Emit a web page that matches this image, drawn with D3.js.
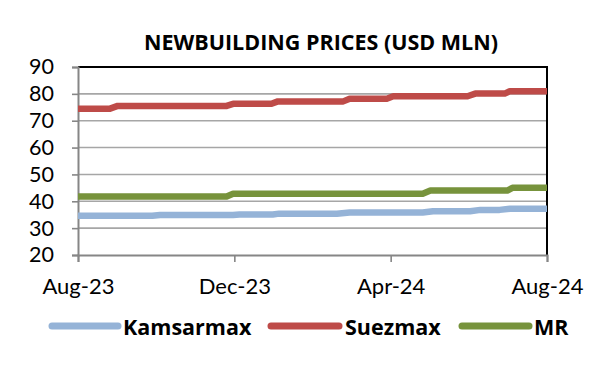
<!DOCTYPE html>
<html>
<head>
<meta charset="utf-8">
<script src="https://cdn.jsdelivr.net/npm/d3@7"></script>
<style>
  html, body { margin: 0; padding: 0; background: #fff; }
  svg { display: block; }
</style>
</head>
<body>
<svg id="chart" width="600" height="369"></svg>
<script>
// ---- Data ----
const title = "NEWBUILDING PRICES (USD MLN)";
const seriesNames = ["Kamsarmax", "Suezmax", "MR"];
const seriesColors = ["#95B3D7", "#BE4B48", "#77933C"];
const xTickDates = ["2023-08-01", "2023-12-01", "2024-04-01", "2024-08-01"];
const yTicks = [20, 30, 40, 50, 60, 70, 80, 90];

const kamsarmax = [
  ["2023-08-01", 34.6], ["2023-09-28", 34.6], ["2023-10-04", 34.9], ["2023-11-30", 34.9],
  ["2023-12-05", 35.1], ["2023-12-31", 35.1], ["2024-01-05", 35.4], ["2024-02-19", 35.4],
  ["2024-02-29", 35.8], ["2024-04-26", 35.8], ["2024-05-04", 36.3], ["2024-06-02", 36.3],
  ["2024-06-10", 36.8], ["2024-06-25", 36.8], ["2024-07-03", 37.2], ["2024-08-01", 37.2]
];
const suezmax = [
  ["2023-08-01", 74.5], ["2023-08-26", 74.5], ["2023-09-01", 75.5], ["2023-11-25", 75.5],
  ["2023-11-30", 76.3], ["2023-12-30", 76.3], ["2024-01-04", 77.2], ["2024-02-24", 77.2],
  ["2024-02-29", 78.2], ["2024-03-29", 78.2], ["2024-04-03", 79.1], ["2024-05-31", 79.1],
  ["2024-06-06", 80.1], ["2024-06-29", 80.1], ["2024-07-03", 81.0], ["2024-08-01", 81.0]
];
const mr = [
  ["2023-08-01", 41.8], ["2023-11-25", 41.8], ["2023-11-30", 42.8], ["2024-04-26", 42.8],
  ["2024-05-02", 44.0], ["2024-07-01", 44.0], ["2024-07-05", 45.0], ["2024-08-01", 45.0]
];
const seriesData = [kamsarmax, suezmax, mr];

// ---- Layout ----
const svg = d3.select("#chart");
const plotL = 78, plotR = 547, plotT = 67, plotB = 255;
const parse = d3.timeParse("%Y-%m-%d");

const x = d3.scaleTime()
  .domain([parse(xTickDates[0]), parse(xTickDates[xTickDates.length - 1])])
  .range([plotL, plotR]);
const y = d3.scaleLinear().domain([20, 90]).range([plotB, plotT]);

svg.append("rect").attr("width", 600).attr("height", 369).attr("fill", "#fff");

// Title
svg.append("text")
  .attr("x", 321).attr("y", 50)
  .attr("text-anchor", "middle")
  .style("font-family", "'Open Sans'")
  .style("font-weight", "bold")
  .style("font-size", "21.5px")
  .attr("fill", "#000")
  .text(title);

// Gridlines
svg.append("g")
  .selectAll("line")
  .data(yTicks.filter(d => d > 20 && d < 90))
  .join("line")
  .attr("x1", plotL).attr("x2", plotR)
  .attr("y1", d => y(d)).attr("y2", d => y(d))
  .attr("stroke", "#a6a6a6").attr("stroke-width", 1.6);

// Plot border (top / right black)
svg.append("path")
  .attr("d", `M${plotL},${plotT}H${plotR}V${plotB}`)
  .attr("fill", "none").attr("stroke", "#000").attr("stroke-width", 2);

// Y axis
const yAxis = svg.append("g")
  .attr("transform", `translate(${plotL},0)`)
  .call(d3.axisLeft(y).tickValues(yTicks).tickSize(6).tickPadding(18).tickFormat(d3.format("d")));
yAxis.select(".domain").attr("stroke", "#868686").attr("stroke-width", 2);
yAxis.selectAll(".tick line").attr("stroke", "#868686").attr("stroke-width", 1.6);
yAxis.selectAll(".tick text")
  .style("font-family", "Lato").style("font-size", "21.5px").attr("fill", "#000");

// X axis
const xAxis = svg.append("g")
  .attr("transform", `translate(0,${plotB})`)
  .call(d3.axisBottom(x).tickValues(xTickDates.map(parse)).tickSize(7).tickPadding(16)
    .tickFormat(d3.timeFormat("%b-%y")));
xAxis.select(".domain").attr("stroke", "#868686").attr("stroke-width", 2);
xAxis.selectAll(".tick line").attr("stroke", "#868686").attr("stroke-width", 1.6);
xAxis.selectAll(".tick text")
  .style("font-family", "Lato").style("font-size", "22px").attr("fill", "#000");

// Lines
const line = d3.line()
  .x(d => x(parse(d[0])))
  .y(d => y(d[1]));

svg.append("g")
  .selectAll("path")
  .data(seriesData)
  .join("path")
  .attr("d", d => line(d))
  .attr("fill", "none")
  .attr("stroke", (d, i) => seriesColors[i])
  .attr("stroke-width", 6.5)
  .attr("stroke-linejoin", "round");

// Legend
const legendItems = [
  { lx1: 52, lx2: 118, tx: 123 },
  { lx1: 271, lx2: 339, tx: 345 },
  { lx1: 462, lx2: 529, tx: 534 }
];
const lg = svg.append("g");
legendItems.forEach((it, i) => {
  lg.append("line")
    .attr("x1", it.lx1).attr("x2", it.lx2)
    .attr("y1", 326).attr("y2", 326)
    .attr("stroke", seriesColors[i]).attr("stroke-width", 7)
    .attr("stroke-linecap", "round");
  lg.append("text")
    .attr("x", it.tx).attr("y", 335)
    .style("font-family", "'Open Sans'")
    .style("font-weight", "bold")
    .style("font-size", "21.5px")
    .attr("fill", "#000")
    .text(seriesNames[i]);
});
</script>
</body>
</html>
